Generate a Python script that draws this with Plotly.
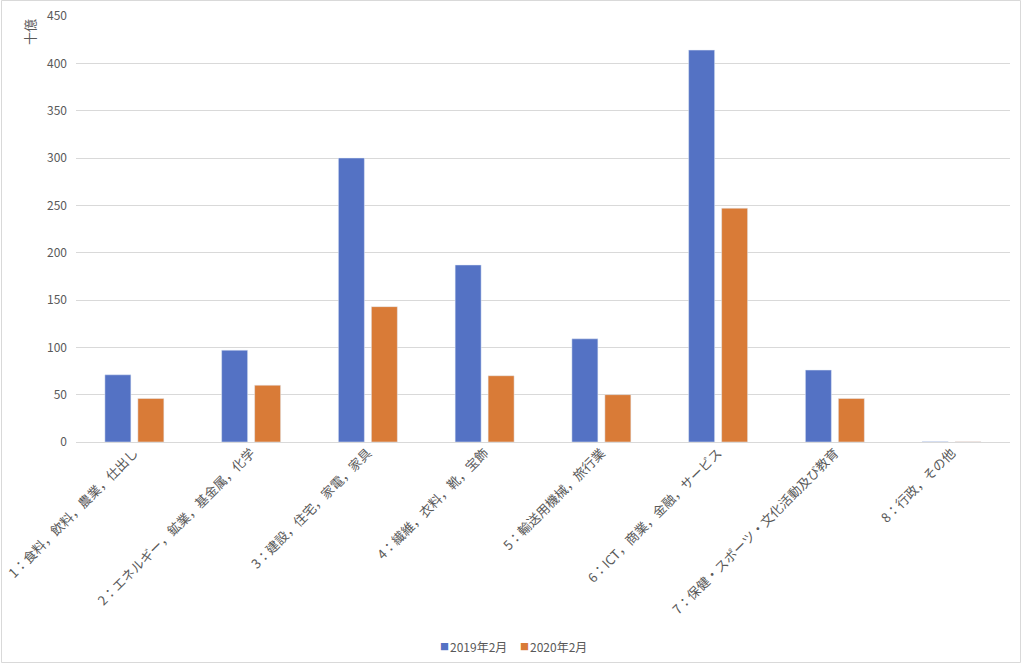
import plotly.graph_objects as go

categories = [
    "1：食料，飲料，農業，仕出し",
    "2：エネルギー，鉱業，基金属，化学",
    "3：建設，住宅，家電，家具",
    "4：繊維，衣料，靴，宝飾",
    "5：輸送用機械，旅行業",
    "6：ICT，商業，金融，サービス",
    "7：保健・スポーツ・文化活動及び教育",
    "8：行政，その他",
]
values_2019 = [71, 97, 300, 187, 109, 414, 76, 0.4]
values_2020 = [46, 60, 143, 70, 50, 247, 46, 0.3]
series_names = ["2019年2月", "2020年2月"]
series_colors = ["#5472C4", "#D97B37"]
y_ticks = [0, 50, 100, 150, 200, 250, 300, 350, 400, 450]

FONT = "Noto Sans CJK JP, Noto Sans, sans-serif"
GRAY = "#595959"

L, R, T, B = 76, 14, 16, 226
W, H = 1024, 668
pw, ph = W - L - R, H - T - B


def px2paperx(px):
    return (px - L) / pw


def px2papery(py):
    return (H - B - py) / ph


fig = go.Figure()
fig.add_trace(go.Bar(x=categories, y=values_2019, name=series_names[0],
                     marker_color=series_colors[0]))
fig.add_trace(go.Bar(x=categories, y=values_2020, name=series_names[1],
                     marker_color=series_colors[1]))

# legend drawn as compact text entries (Excel style)
legend_ann = []
legend_x = [444, 524]
for name, col, lx in zip(series_names, series_colors, legend_x):
    legend_ann.append(dict(text="■", xref="paper", yref="paper",
                           x=px2paperx(lx), y=px2papery(646),
                           xanchor="center", yanchor="middle", showarrow=False,
                           font=dict(size=9, color=col, family=FONT)))
    legend_ann.append(dict(text=name, xref="paper", yref="paper",
                           x=px2paperx(lx + 4), y=px2papery(646),
                           xanchor="left", yanchor="middle", showarrow=False,
                           font=dict(size=12, color=GRAY, family=FONT)))

fig.update_layout(
    width=W, height=H,
    margin=dict(l=L, r=R, t=T, b=B, autoexpand=False),
    paper_bgcolor="white", plot_bgcolor="white",
    font=dict(family=FONT, color=GRAY, size=12),
    barmode="group", bargap=0.435, bargroupgap=0.212,
    showlegend=False,
    xaxis=dict(tickangle=-45, tickfont=dict(size=13, color=GRAY),
               showgrid=False, showline=False, ticks="", automargin=False),
    yaxis=dict(range=[0, 450], tickvals=y_ticks, tickfont=dict(size=12, color=GRAY),
               showgrid=True, gridcolor="#D9D9D9", gridwidth=1,
               zeroline=True, zerolinecolor="#D9D9D9", zerolinewidth=1,
               showline=False, ticks="", ticklabelstandoff=8, automargin=False),
    shapes=[dict(type="rect", xref="paper", yref="paper",
                 x0=px2paperx(1.5), x1=px2paperx(1020.5),
                 y0=px2papery(662.5), y1=px2papery(0.5),
                 line=dict(color="#D9D9D9", width=1), layer="below")],
    annotations=[dict(text="十億", xref="paper", yref="paper",
                      x=px2paperx(30), y=px2papery(32),
                      xanchor="center", yanchor="middle",
                      textangle=-90, showarrow=False,
                      font=dict(size=13, color=GRAY, family=FONT))] + legend_ann,
)

fig.write_html("out.html")
